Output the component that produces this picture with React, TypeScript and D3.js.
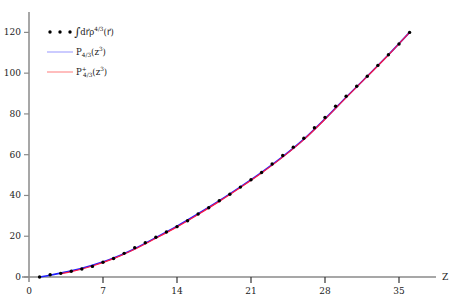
import * as d3 from "d3";

// dots: integral of rho^(4/3) for Z = 1..36
const dotZ = [
  1, 2, 3, 4, 5, 6, 7, 8, 9, 10, 11, 12, 13, 14, 15, 16, 17, 18, 19, 20, 21,
  22, 23, 24, 25, 26, 27, 28, 29, 30, 31, 32, 33, 34, 35, 36,
];
const dotVal = [
  0, 1.1, 1.8, 2.8, 3.9, 5.2, 7.2, 9.1, 11.6, 14.4, 16.8, 19.5, 22.1, 24.7,
  27.6, 30.9, 34.0, 37.4, 40.6, 44.1, 47.7, 51.3, 55.4, 59.6, 63.7, 68.1, 73.2,
  78.3, 83.8, 88.7, 93.6, 98.5, 103.8, 109.0, 114.3, 120.0,
];

// P_{4/3}(z^3) (blue)
const blueZ = [1, 2, 3, 4, 6, 8, 10, 12, 14, 16, 18, 20, 22, 24, 26, 28, 30, 32, 34, 36];
const blueVal = [
  0, 0.9, 1.9, 3.0, 5.8, 9.3, 13.9, 19.3, 24.9, 31.0, 37.4, 44.2, 51.3, 59.0,
  67.6, 77.6, 88.2, 98.5, 109.0, 120.0,
];

// P+_{4/3}(z^3) (red)
const redZ = [3, 4, 6, 8, 10, 12, 14, 16, 18, 20, 22, 24, 26, 28, 30, 32, 34, 36];
const redVal = [
  1.5, 2.6, 5.4, 9.0, 13.6, 19.0, 24.6, 30.7, 37.1, 43.9, 51.0, 58.8, 67.4,
  77.4, 88.0, 98.4, 108.9, 120.0,
];

const xTicks = [0, 7, 14, 21, 28, 35];
const yTicks = [0, 20, 40, 60, 80, 100, 120];

const width = 463;
const height = 300;
const axisColor = "#8a8a8a";
const font = "'DejaVu Serif', serif";
const vecFont = "'DejaVu Sans', sans-serif";

const x = d3.scaleLinear().domain([0, 38.5]).range([29, 436]);
const y = d3.scaleLinear().domain([0, 130]).range([277, 12]);

const line = d3
  .line<[number, number]>()
  .x((d) => x(d[0]))
  .y((d) => y(d[1]))
  .curve(d3.curveMonotoneX);

const App = () => {
  const blue = blueZ.map((z, i) => [z, blueVal[i]] as [number, number]);
  const red = redZ.map((z, i) => [z, redVal[i]] as [number, number]);

  return (
    <svg
      width={width}
      height={height}
      style={{ position: "absolute", left: 0, top: 0, background: "#fff" }}
      fontFamily={font}
    >
      {/* axes */}
      <line x1={22} x2={436} y1={y(0)} y2={y(0)} stroke={axisColor} strokeWidth={1.5} />
      <line x1={x(0)} x2={x(0)} y1={12} y2={282} stroke={axisColor} strokeWidth={1.5} />
      {yTicks.map((t) => (
        <g key={"y" + t}>
          <line x1={x(0) - 5} x2={x(0)} y1={y(t)} y2={y(t)} stroke={axisColor} strokeWidth={1.2} />
          <text x={x(0) - 8} y={y(t)} dy="0.32em" textAnchor="end" fontSize={9} fill="#222">
            {t}
          </text>
        </g>
      ))}
      {xTicks.map((t) => (
        <g key={"x" + t}>
          {t > 0 && (
            <line x1={x(t)} x2={x(t)} y1={y(0)} y2={y(0) + 6} stroke="#333" strokeWidth={1.2} />
          )}
          <text x={x(t)} y={y(0) + 17} textAnchor="middle" fontSize={9} fill="#222">
            {t}
          </text>
        </g>
      ))}
      <text x={442} y={y(0)} dy="0.32em" fontSize={9} fill="#222">
        Z
      </text>

      {/* curves */}
      <path d={line(blue) ?? ""} fill="none" stroke="#2020ff" strokeWidth={1.6} />
      <path d={line(red) ?? ""} fill="none" stroke="#ff1a40" strokeWidth={1.2} />
      {dotZ.map((z, i) => (
        <circle key={z} cx={x(z)} cy={y(dotVal[i])} r={1.7} fill="#000" />
      ))}

      {/* legend */}
      {[50, 60, 70].map((cx) => (
        <circle key={cx} cx={cx} cy={32} r={1.7} fill="#000" />
      ))}
      <text x={74} y={35} fontSize={8.5} fill="#222">
        <tspan fontSize={12} dy={1}>∫</tspan>
        <tspan dy={-1}>d</tspan>
        <tspan fontFamily={vecFont}>{"r\u20D7"}</tspan>
        <tspan>ρ</tspan>
        <tspan fontSize={5.8} dy={-4}>4/3</tspan>
        <tspan dy={4}>(</tspan>
        <tspan fontFamily={vecFont}>{"r\u20D7"}</tspan>
        <tspan>)</tspan>
      </text>
      <line x1={47} x2={73} y1={52} y2={52} stroke="#a8a8ff" strokeWidth={1.2} />
      <text x={76} y={55} fontSize={8.5} fill="#222">
        <tspan>P</tspan>
        <tspan fontSize={5.8} dy={2}>4/3</tspan>
        <tspan dy={-2}>(z</tspan>
        <tspan fontSize={5.8} dy={-4}>3</tspan>
        <tspan dy={4}>)</tspan>
      </text>
      <line x1={47} x2={73} y1={72} y2={72} stroke="#ff9090" strokeWidth={1.2} />
      <text x={76} y={75} fontSize={8.5} fill="#222">
        <tspan>P</tspan>
        <tspan fontSize={5.8} dy={-4}>+</tspan>
        <tspan fontSize={5.8} dx={-3.6} dy={6}>4/3</tspan>
        <tspan dy={-2}>(z</tspan>
        <tspan fontSize={5.8} dy={-4}>3</tspan>
        <tspan dy={4}>)</tspan>
      </text>
    </svg>
  );
};

export default App;
